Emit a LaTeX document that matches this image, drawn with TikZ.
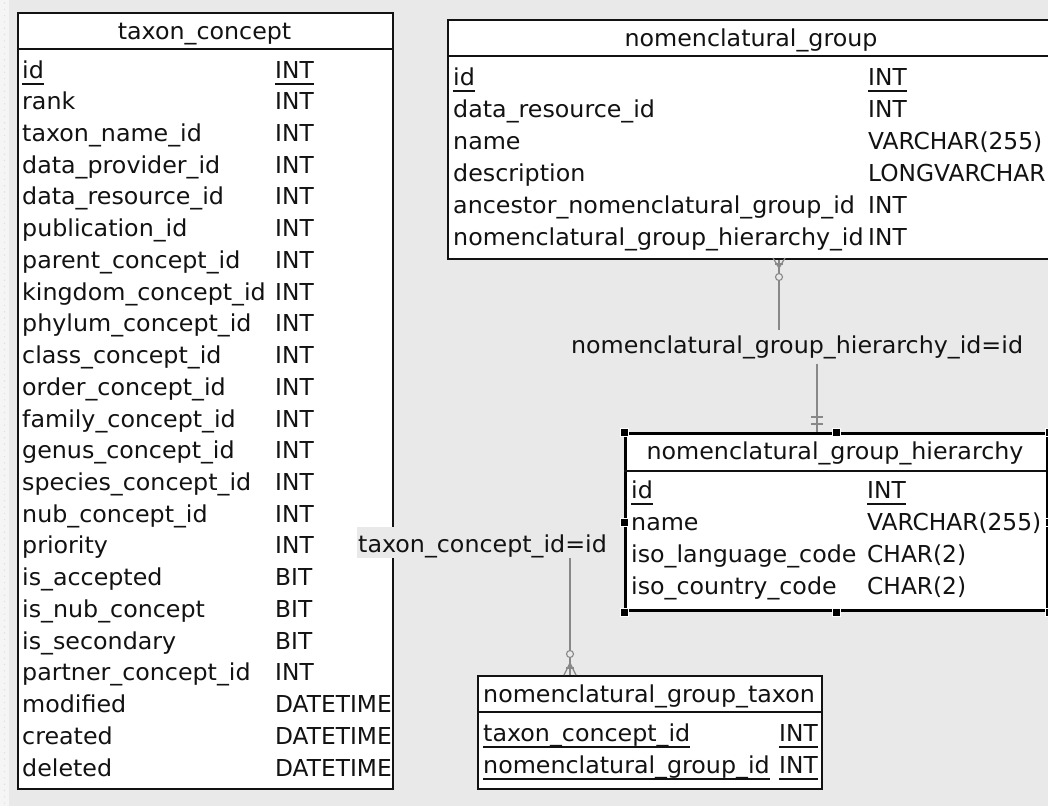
\documentclass[tikz,border=0pt]{standalone}
\usepackage{fontspec}
\setmainfont{DejaVu Sans}
% lower-case names are set a touch wider than the type column
\newfontfamily\namefont[FakeStretch=1.02]{DejaVu Sans}
\definecolor{canvas}{HTML}{E9E9E9}
\definecolor{strip}{HTML}{F5F5F5}
\definecolor{stripdot}{HTML}{E2E2E2}
\definecolor{relgray}{HTML}{888888}
\definecolor{ink}{HTML}{121212}

\begin{document}
\begin{tikzpicture}[x=1pt, y=-1pt,
  font=\fontsize{23.3}{28}\selectfont, text=ink,
  tbl/.style={draw=ink, line width=1.6pt, fill=white, anchor=north west, inner sep=0pt},
  sel/.style={draw=black, line width=3pt},
  fld/.style={anchor=base west, inner sep=0pt, font=\fontsize{23.3}{28}\namefont},
  typ/.style={anchor=base west, inner sep=0pt},
  ttl/.style={anchor=base, inner sep=0pt, font=\fontsize{23.3}{28}\namefont},
  sep/.style={draw=ink, line width=1.6pt},
  pk/.style={draw=ink, line width=1.3pt},
  rel/.style={draw=relgray, line width=1.2pt},
  relend/.style={draw=relgray, line width=1.1pt, fill=canvas},
  hnd/.style={fill=black, draw=white, line width=0.8pt, minimum size=8pt, inner sep=0pt},
  lbl/.style={inner xsep=1pt, anchor=base, font=\fontsize{23.3}{28}\namefont}]

\useasboundingbox (0,0) rectangle (1048,806);
\clip (0,0) rectangle (1048,806);

% canvas and ruler strip
\fill[canvas] (0,0) rectangle (1048,806);
\fill[strip] (0,0) rectangle (9,806);
\foreach \k in {0,...,127} \fill[stripdot] (4.5,{3+6.3*\k}) circle (0.8);

% ---------- taxon_concept ----------
\node[tbl, minimum width=375pt, minimum height=776pt] (tc) at (17,12) {};
\draw[sep] (17,49) -- (392,49);
\node[ttl] (tchead) at (204.5,39) {taxon\_concept};
\foreach \nm/\ty [count=\i from 0] in {
  id/INT, rank/INT, taxon\_name\_id/INT, data\_provider\_id/INT,
  data\_resource\_id/INT, publication\_id/INT, parent\_concept\_id/INT,
  kingdom\_concept\_id/INT, phylum\_concept\_id/INT, class\_concept\_id/INT,
  order\_concept\_id/INT, family\_concept\_id/INT, genus\_concept\_id/INT,
  species\_concept\_id/INT, nub\_concept\_id/INT, priority/INT,
  is\_accepted/BIT, is\_nub\_concept/BIT, is\_secondary/BIT,
  partner\_concept\_id/INT, modified/DATETIME, created/DATETIME,
  deleted/DATETIME} {
  \node[fld] (tcn\i) at (22,{78+31.73*\i}) {\nm};
  \node[typ] (tcy\i) at (275,{78+31.73*\i}) {\ty};
}
\draw[pk] ([yshift=-6pt]tcn0.base west) -- ([yshift=-6pt]tcn0.base east);
\draw[pk] ([yshift=-6pt]tcy0.base west) -- ([yshift=-6pt]tcy0.base east);

% ---------- nomenclatural_group ----------
\node[tbl, minimum width=608pt, minimum height=239pt] (ng) at (447,19) {};
\draw[sep] (447,56) -- (1055,56);
\node[ttl] (nghead) at (751,46) {nomenclatural\_group};
\foreach \nm/\ty [count=\i from 0] in {
  id/INT, data\_resource\_id/INT, name/VARCHAR(255),
  description/LONGVARCHAR, ancestor\_nomenclatural\_group\_id/INT,
  nomenclatural\_group\_hierarchy\_id/INT} {
  \node[fld] (ngn\i) at (453,{85+32*\i}) {\nm};
  \node[typ] (ngy\i) at (868,{85+32*\i}) {\ty};
}
\draw[pk] ([yshift=-6pt]ngn0.base west) -- ([yshift=-6pt]ngn0.base east);
\draw[pk] ([yshift=-6pt]ngy0.base west) -- ([yshift=-6pt]ngy0.base east);

% ---------- nomenclatural_group_hierarchy (selected) ----------
\node[tbl, sel, minimum width=422pt, minimum height=177pt] (ngh) at (624,432) {};
\draw[sep] (624,471) -- (1046,471);
\node[ttl] (nghhead) at (835,459) {nomenclatural\_group\_hierarchy};
\foreach \nm/\ty [count=\i from 0] in {
  id/INT, name/VARCHAR(255), iso\_language\_code/CHAR(2),
  iso\_country\_code/CHAR(2)} {
  \node[fld] (nghn\i) at (631,{498+32*\i}) {\nm};
  \node[typ] (nghy\i) at (867,{498+32*\i}) {\ty};
}
\draw[pk] ([yshift=-6pt]nghn0.base west) -- ([yshift=-6pt]nghn0.base east);
\draw[pk] ([yshift=-6pt]nghy0.base west) -- ([yshift=-6pt]nghy0.base east);

% ---------- nomenclatural_group_taxon ----------
\node[tbl, minimum width=344pt, minimum height=113pt] (ngt) at (477,675) {};
\draw[sep] (477,712) -- (821,712);
\node[ttl] (ngthead) at (649,702) {nomenclatural\_group\_taxon};
\foreach \nm/\ty [count=\i from 0] in {
  taxon\_concept\_id/INT, nomenclatural\_group\_id/INT} {
  \node[fld] (ngtn\i) at (483,{741+32*\i}) {\nm};
  \node[typ] (ngty\i) at (779,{741+32*\i}) {\ty};
  \draw[pk] ([yshift=-6pt]ngtn\i.base west) -- ([yshift=-6pt]ngtn\i.base east);
  \draw[pk] ([yshift=-6pt]ngty\i.base west) -- ([yshift=-6pt]ngty\i.base east);
}

% ---------- relations ----------
\coordinate (xa) at (779,0);
\coordinate (xb) at (817,0);
\coordinate (xc) at (570,0);

% nomenclatural_group -> nomenclatural_group_hierarchy
\node[lbl, inner ysep=5pt] (r1) at (797,353) {nomenclatural\_group\_hierarchy\_id=id};
\draw[rel] (xa |- ng.south) -- (xa |- r1.north);
\draw[rel] (xb |- r1.south) -- (xb |- ngh.north);
% zero-or-many end
\draw[rel] (773,258) -- (779,268) -- (785,258);
\draw[rel] (775,264) -- (783,264);
\draw[relend] (779,277) circle (3.5);
% exactly-one end
\draw[rel] (811,417) -- (823,417);
\draw[rel] (811,424) -- (823,424);

% taxon_concept -> nomenclatural_group_taxon
\node[lbl, fill=canvas, inner ysep=0pt, text height=25pt, text depth=6pt] (r2) at (482.5,552) {taxon\_concept\_id=id};
\draw[rel] (xc |- r2.south) -- (xc |- ngt.north);
% zero-or-many end
\draw[rel] (564,675) -- (570,663) -- (576,675);
\draw[rel] (566,668) -- (574,668);
\draw[relend] (570,654) circle (3.5);

% selection handles
\foreach \a [count=\k] in {north west, north, north east, west, east, south west, south, south east}
  \node[hnd] (hd\k) at (ngh.\a) {};

\end{tikzpicture}
\end{document}
